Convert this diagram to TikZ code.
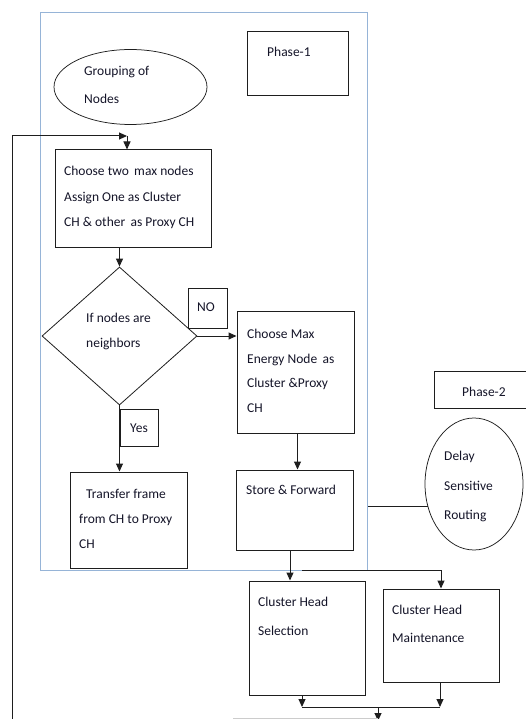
\documentclass[tikz,border=0pt]{standalone}
\usepackage{fontspec}
\setmainfont{Carlito}
\usetikzlibrary{shapes.geometric,arrows.meta}
\definecolor{framecol}{RGB}{150,180,215}
\definecolor{linecol}{RGB}{30,30,30}
\definecolor{txtcol}{RGB}{20,20,40}
\tikzset{
  boxnode/.style={draw=linecol,line width=1pt,rectangle,inner sep=0pt},
  ovalnode/.style={draw=linecol,line width=0.75pt,ellipse,inner sep=0pt},
  txt/.style={anchor=north west,inner sep=0pt,align=left,text=txtcol},
  conn/.style={draw=linecol,line width=1pt},
  arr/.style={conn,-{Triangle[length=8pt,width=7pt]}},
}
\newcommand{\fs}[1]{\fontsize{13.5}{#1}\selectfont}
\begin{document}
\begin{tikzpicture}[x=1pt,y=-1pt]
\useasboundingbox (0,0) rectangle (525,719);
% frame
\node[draw=framecol,line width=1pt,rectangle,inner sep=0pt,minimum width=327,minimum height=557] (frame) at (203.5,291.5) {};
% shapes
\node[ovalnode,minimum width=153,minimum height=75] (grp) at (130.5,87) {};
\node[boxnode,minimum width=101,minimum height=64] (ph1) at (297.5,64) {};
\node[boxnode,minimum width=156,minimum height=97] (b1) at (133,198.5) {};
\node[draw=linecol,line width=0.8pt,diamond,aspect=1.12,inner sep=0pt,minimum width=155,minimum height=138] (dia) at (119.5,336) {};
\node[boxnode,minimum width=39,minimum height=40] (no) at (207.5,308) {};
\node[boxnode,minimum width=117,minimum height=122] (b2) at (295.5,372) {};
\node[boxnode,minimum width=38,minimum height=37] (yes) at (139,427.5) {};
\node[boxnode,minimum width=117,minimum height=96] (b3) at (128.5,520) {};
\node[boxnode,minimum width=117,minimum height=80] (b4) at (294.5,510) {};
\node[boxnode,minimum width=116,minimum height=114] (chs) at (307,638) {};
\node[boxnode,minimum width=116,minimum height=93] (chm) at (441,635.5) {};
\node[boxnode,minimum width=94,minimum height=37] (ph2) at (481,389.5) {};
\node[ovalnode,minimum width=98,minimum height=132] (dsr) at (474,484) {};
% texts
\node[txt,font=\fs{28}] (tgrp) at (84,66) {Grouping of\\Nodes};
\node[txt,font=\fs{25}] (tph1) at (267,47) {Phase-1};
\node[txt,font=\fs{25.5}] (tb1) at (64,166) {Choose two\, max nodes\\Assign One as Cluster\\CH \& other\, as Proxy CH};
\node[txt,font=\fs{25}] (tdia) at (86,313) {If nodes are\\neighbors};
\node[txt,font=\fs{25}] (tno) at (197,303) {NO};
\node[txt,font=\fs{24.7}] (tb2) at (247,329) {Choose Max\\Energy Node\, as\\Cluster \&Proxy\\CH};
\node[txt,font=\fs{25}] (tyes) at (130,424) {Yes};
\node[txt,font=\fs{25}] (tb3) at (79,489) {\hspace{7pt}Transfer frame\\from CH to Proxy\\CH};
\node[txt,font=\fs{25}] (tb4) at (246,485) {Store \& Forward};
\node[txt,font=\fs{29}] (tchs) at (258,597) {Cluster Head\\Selection};
\node[txt,font=\fs{28}] (tchm) at (392,605) {Cluster Head\\Maintenance};
\node[txt,font=\fs{25}] (tph2) at (462,387) {Phase-2};
\node[txt,font=\fs{29.5}] (tdsr) at (444,451) {Delay\\Sensitive\\Routing};
% coordinates
\coordinate (fb0) at (12,722);
\coordinate (fb1) at (127,136);
\coordinate (br) at (302,570);
\coordinate (j1) at (302,707);
\coordinate (j2) at (440,707);
\coordinate (j3) at (378,707);
\coordinate (jend) at (378,721);
\coordinate (g1) at (233,718);
% connectors
\draw[arr] (fb0) |- (fb1);
\draw[arr] (fb1) -- (fb1 |- b1.north);
\draw[arr] (dia.north |- b1.south) -- (dia.north);
\draw[arr] (dia.east) -- (dia.east -| b2.west);
\draw[arr] (dia.south) -- (dia.south |- b3.north);
\draw[arr] ([xshift=2pt]b2.south) -- ([xshift=2pt]b2.south |- b4.north);
\draw[arr] ([xshift=-4.5pt]b4.south) -- ([xshift=-4.5pt]b4.south |- chs.north);
\draw[arr] (br) -| (chm.north);
\draw[conn] (dsr.206) -- (dsr.206 -| frame.east);
\draw[arr] (j1 |- chs.south) -- (j1);
\draw[arr] (j2 |- chm.south) -- (j2);
\draw[conn] (j1) -- (j2);
\draw[arr] (j3) -- (jend);
\draw[gray!40,line width=0.9pt] (g1) -- (g1 -| j3);
\end{tikzpicture}
\end{document}
